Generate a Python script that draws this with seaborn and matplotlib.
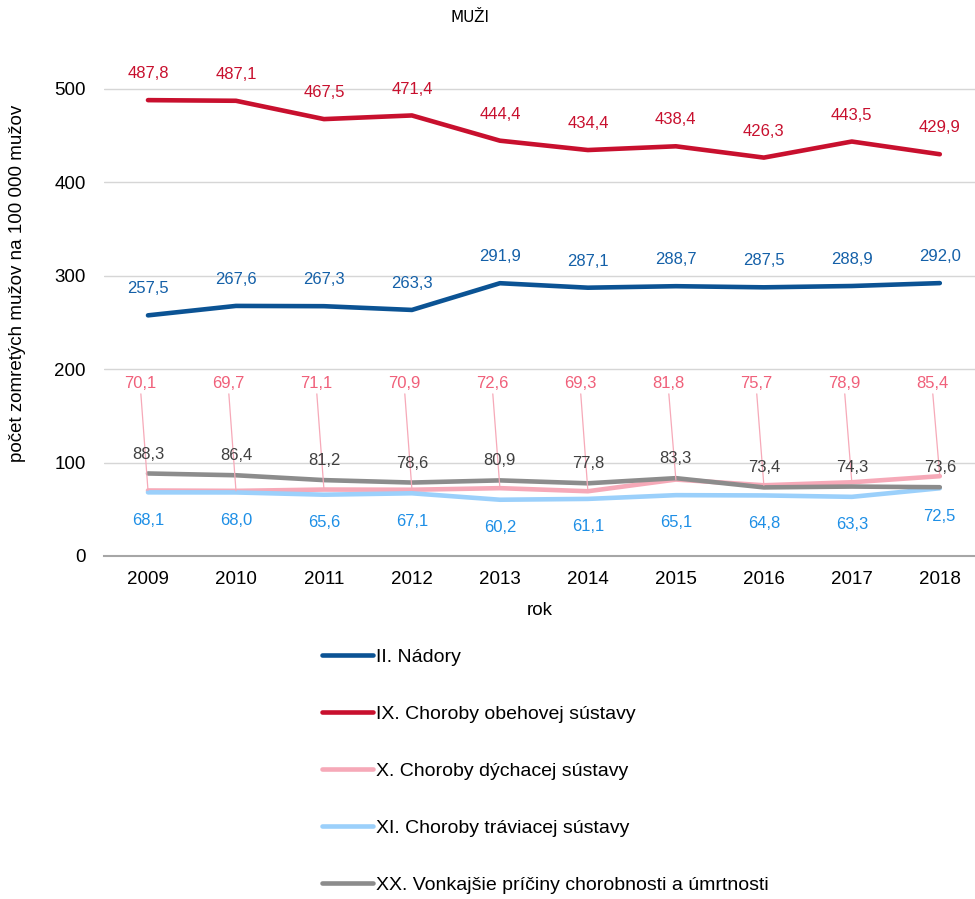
import numpy as np
import pandas as pd
import matplotlib
matplotlib.use("Agg")
import matplotlib.pyplot as plt
import seaborn as sns

# ── Data ─────────────────────────────────────────────────────────────────────
YEARS = ["2009", "2010", "2011", "2012", "2013", "2014", "2015", "2016", "2017", "2018"]

NADORY    = [257.5, 267.6, 267.3, 263.3, 291.9, 287.1, 288.7, 287.5, 288.9, 292.0]
OBEHOVA   = [487.8, 487.1, 467.5, 471.4, 444.4, 434.4, 438.4, 426.3, 443.5, 429.9]
DYCHACIA  = [70.1, 69.7, 71.1, 70.9, 72.6, 69.3, 81.8, 75.7, 78.9, 85.4]
TRAVIACA  = [68.1, 68.0, 65.6, 67.1, 60.2, 61.1, 65.1, 64.8, 63.3, 72.5]
VONKAJSIE = [88.3, 86.4, 81.2, 78.6, 80.9, 77.8, 83.3, 73.4, 74.3, 73.6]

SERIES = [
    ("II. Nádory", NADORY),
    ("IX. Choroby obehovej sústavy", OBEHOVA),
    ("X. Choroby dýchacej sústavy", DYCHACIA),
    ("XI. Choroby tráviacej sústavy", TRAVIACA),
    ("XX. Vonkajšie príčiny chorobnosti a úmrtnosti", VONKAJSIE),
]
LINE_COLORS  = ["#0B5394", "#C8102E", "#F6A9B8", "#9BD0FB", "#8C8C8C"]
LABEL_COLORS = ["#1460A8", "#C8102E", "#F0607A", "#1E8FE6", "#404040"]
# label offset in points (None = pink labels with leader lines)
LABEL_DY = [19, 19, None, -20, 14]
PINK_LABEL_Y = 185

sns.set_theme(style="white")
plt.rcParams["font.family"] = ["Liberation Sans", "DejaVu Sans"]
plt.rcParams["text.color"] = "black"
plt.rcParams["axes.labelcolor"] = "black"

df = pd.concat([
    pd.DataFrame({"rok": YEARS, "hodnota": vals, "séria": name})
    for name, vals in SERIES
])

fig = plt.figure(figsize=(9.75, 8.99), dpi=100)
ax = fig.add_axes([104 / 975, 1 - 556 / 899, (975 - 104) / 975, 514 / 899])

sns.lineplot(data=df, x="rok", y="hodnota", hue="séria",
             palette=LINE_COLORS, linewidth=3.3, legend=False, ax=ax,
             sort=False)
for ln in ax.lines:
    ln.set_solid_capstyle("round")

# ── Data labels ──────────────────────────────────────────────────────────────
xs = np.arange(len(YEARS))
for (name, vals), col, dy in zip(SERIES, LABEL_COLORS, LABEL_DY):
    for x, v in zip(xs, vals):
        txt = f"{v:.1f}".replace(".", ",")
        if dy is None:
            ax.annotate(txt, (x, v), xytext=(x - 0.09, PINK_LABEL_Y),
                        textcoords="data", ha="center", va="center",
                        fontsize=12, color=col,
                        arrowprops=dict(arrowstyle="-", color="#F6A9B8",
                                        lw=0.9, shrinkA=0, shrinkB=0))
        else:
            ax.annotate(txt, (x, v), xytext=(0, dy), textcoords="offset points",
                        ha="center", va="center", fontsize=12, color=col)

# ── Axes styling ─────────────────────────────────────────────────────────────
ax.set_xlim(-0.5, 9.4)
ax.set_ylim(0, 550)
ax.set_yticks([0, 100, 200, 300, 400, 500])
ax.yaxis.grid(True, color="#D6D6D6", linewidth=1)
ax.set_axisbelow(True)
for s in ["top", "right", "left"]:
    ax.spines[s].set_visible(False)
ax.spines["bottom"].set_color("#A6A6A6")
ax.spines["bottom"].set_linewidth(1.5)
ax.tick_params(axis="both", length=0, labelsize=13.5, colors="black")
ax.tick_params(axis="y", pad=13)
ax.tick_params(axis="x", pad=11)

ax.set_xlabel("rok", fontsize=13.5, labelpad=10)
ax.set_ylabel("počet zomretých mužov na 100 000 mužov", fontsize=13.5)
ax.yaxis.set_label_coords(-0.089, 0.53)

fig.text(470 / 975, 1 - 17 / 899, "MUŽI", ha="center", va="center",
         fontsize=11, family="DejaVu Sans")

# ── Legend ───────────────────────────────────────────────────────────────────
handles = ax.lines[:len(SERIES)]
leg = fig.legend(handles, [n for n, _ in SERIES], loc="upper left",
                 bbox_to_anchor=(322 / 975, 1 - 648 / 899), frameon=False,
                 fontsize=14, handlelength=2.6, handletextpad=0.2,
                 labelspacing=2.03, borderpad=0, borderaxespad=0)
for t in leg.get_texts():
    t.set_color("black")

fig.savefig("out.png", dpi=100)
